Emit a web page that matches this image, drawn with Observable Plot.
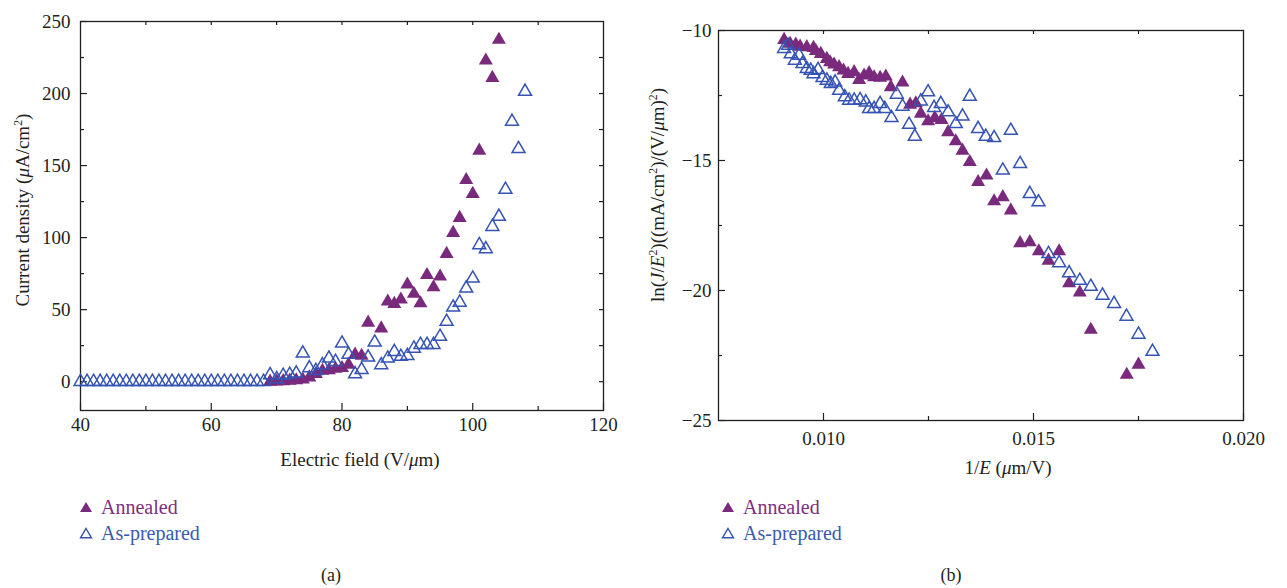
<!DOCTYPE html>
<html><head><meta charset="utf-8">
<script src="https://cdn.jsdelivr.net/npm/d3@7"></script>
<script src="https://cdn.jsdelivr.net/npm/@observablehq/plot@0.6"></script>
<style>
body{margin:0;background:#fff;}
#root{position:relative;width:1287px;height:588px;font-family:"Liberation Serif","Times New Roman",serif;color:#231f20;overflow:hidden;background:#fff}
.abs{position:absolute;white-space:nowrap;line-height:1}
.ctr{transform:translate(-50%,-50%)}
.ytitle{transform:translate(-50%,-50%) rotate(-90deg)}
.title{font-size:19px}
sup{font-size:0.62em;vertical-align:0.55em;line-height:0}
.leg{font-size:20px;display:flex;align-items:center;transform:translateY(-50%)}
.leg svg{margin-right:8px}
.cap{font-size:18px}
#pa,#pb{position:absolute;top:0}
#pa{left:0}#pb{left:640px}
</style></head>
<body><div id="root">
<div id="pa"></div><div id="pb"></div>
<div class="abs ytitle title" style="left:22px;top:210px">Current density (<i>μ</i>A/cm<sup>2</sup>)</div>
<div class="abs ctr title" style="left:360px;top:459px">Electric field (V/<i>μ</i>m)</div>
<div class="abs ytitle title" style="left:657px;top:195px">ln(<i>J</i>/<i>E</i><sup>2</sup>)((mA/cm<sup>2</sup>)/(V/<i>μ</i>m)<sup>2</sup>)</div>
<div class="abs ctr title" style="left:1008px;top:467px">1/<i>E</i> (<i>μ</i>m/V)</div>
<div class="abs leg" style="left:79px;top:507px;color:#7b2f80"><svg width="14" height="12"><path d="M7,1L13,11L1,11Z" fill="#7a2a7c"/></svg>Annealed</div>
<div class="abs leg" style="left:79px;top:533px;color:#3a5ab0"><svg width="14" height="12"><path d="M7,1.5L12.5,10.8L1.5,10.8Z" fill="none" stroke="#3553b3" stroke-width="1.4"/></svg>As-prepared</div>
<div class="abs leg" style="left:721px;top:507px;color:#7b2f80"><svg width="14" height="12"><path d="M7,1L13,11L1,11Z" fill="#7a2a7c"/></svg>Annealed</div>
<div class="abs leg" style="left:721px;top:533px;color:#3a5ab0"><svg width="14" height="12"><path d="M7,1.5L12.5,10.8L1.5,10.8Z" fill="none" stroke="#3553b3" stroke-width="1.4"/></svg>As-prepared</div>
<div class="abs ctr cap" style="left:331px;top:575px">(a)</div>
<div class="abs ctr cap" style="left:951px;top:575px">(b)</div>
</div>
<script>
// ---------- Panel (a): J vs E ----------
const annealedE = [69,70,71,72,73,74,75,76,77,78,79,80,81,82,83,84,86,87,88,89,90,91,92,93,94,95,96,97,98,99,100,101,102,103,104];
const annealedJ = [0,0.2,0.4,0.7,1.0,1.5,3,5.3,7.6,8,9,9.5,11.8,18.8,18,41,37,55.6,54,57,67.4,61,54.4,74,65.5,73,88.7,103.3,113.7,140,130.3,160.4,222.9,210.9,237.3];
const preparedE = [40,41,42,43,44,45,46,47,48,49,50,51,52,53,54,55,56,57,58,59,60,61,62,63,64,65,66,67,68,69,70,71,72,73,74,75,76,77,78,79,80,81,82,83,84,85,86,87,88,89,90,91,92,93,94,95,96,97,98,99,100,101,102,103,104,105,106,107,108];
const preparedJ = [0,0,0,0,0,0,0,0,0,0,0,0,0,0,0,0,0,0,0,0,0,0,0,0,0,0,0,0,0,4.7,1.9,4.2,4.9,5.8,19.7,9.5,7.6,11.6,16.2,13.9,26.6,18.8,5.3,8.3,16.9,27.3,11.6,16.2,20.8,17.4,18,23.1,25.7,25.7,25.7,31.3,41.7,51.6,55,64.8,71.7,94.9,92.1,107.6,114.6,133.3,180.6,161.6,201.4];
const xTicksA = [40,60,80,100,120];
const xMinorA = [50,70,90,110];
const yTicksA = [0,50,100,150,200,250];
const yMinorA = [25,75,125,175,225];

// ---------- Panel (b): ln(J/E^2) vs 1/E ----------
const annealedInvE = [0.009062,0.009205,0.00934,0.009443,0.009602,0.009762,0.009817,0.009936,0.010079,0.010157,0.010252,0.010371,0.010476,0.010586,0.010729,0.010848,0.010967,0.011086,0.011205,0.011348,0.011483,0.011602,0.011881,0.012062,0.012198,0.012317,0.01249,0.01265,0.01281,0.012967,0.01315,0.01331,0.013483,0.013681,0.013881,0.014062,0.014269,0.01446,0.014681,0.014912,0.015126,0.015357,0.01561,0.015848,0.016102,0.016364,0.017221,0.0175];
const annealedLn = [-10.36,-10.51,-10.54,-10.62,-10.64,-10.67,-10.79,-10.9,-11.09,-11.22,-11.31,-11.41,-11.54,-11.67,-11.6,-11.9,-11.73,-11.64,-11.8,-11.82,-11.77,-12.18,-12.0,-12.85,-12.8,-13.2,-13.49,-13.36,-13.44,-13.91,-14.26,-14.62,-15.06,-15.83,-15.58,-16.57,-16.41,-16.92,-18.18,-18.14,-18.49,-18.85,-18.49,-19.72,-20.08,-21.51,-23.24,-22.85];
const preparedInvE = [0.009062,0.009157,0.009221,0.009317,0.009419,0.0095,0.009602,0.009698,0.009762,0.009871,0.009976,0.010079,0.010174,0.010276,0.010371,0.010507,0.01061,0.010729,0.010871,0.011007,0.011086,0.011205,0.011348,0.01146,0.011619,0.011745,0.011881,0.012038,0.012174,0.012317,0.01249,0.012633,0.012793,0.012967,0.01315,0.01331,0.013483,0.013681,0.013864,0.014062,0.014269,0.01446,0.014681,0.014912,0.015119,0.015357,0.01561,0.015848,0.016102,0.016364,0.016643,0.016919,0.017214,0.0175,0.017833];
const preparedLn = [-10.7,-10.58,-10.9,-11.15,-10.96,-11.28,-11.47,-11.54,-11.67,-11.51,-11.82,-11.92,-12.05,-11.99,-12.31,-12.56,-12.69,-12.69,-12.67,-12.76,-13.01,-13.01,-12.82,-13.01,-13.36,-12.46,-12.92,-13.62,-14.08,-12.72,-12.37,-12.97,-12.82,-13.14,-13.59,-13.3,-12.54,-13.78,-14.08,-14.13,-15.38,-13.85,-15.13,-16.28,-16.6,-18.59,-18.94,-19.33,-19.62,-19.85,-20.19,-20.51,-21.0,-21.69,-22.35];
const xTicksB = [0.010,0.015,0.020];
const xMinorB = [0.0125,0.0175];
const xTopB = [0.010,0.0125,0.015,0.0175];
const yTicksB = [-10,-15,-20,-25];
const yMinorB = [-12.5,-17.5,-22.5];

const purple = "#7a2a7c", blue = "#3553b3", ink = "#231f20";
const rows = (xs, ys) => xs.map((x, i) => ({x, y: ys[i]}));

function panel({width, height, mL, mR, mT, mB, xDomain, yDomain, xTicks, xMinor, xTop, yTicks, yMinor, yRight, xFmt, xPad, yPad, filled, hollow}) {
  const fw = width - mL - mR, fh = height - mT - mB;
  const major = 7, minor = 4;
  return Plot.plot({
    width, height, marginLeft: mL, marginRight: mR, marginTop: mT, marginBottom: mB,
    style: {fontFamily: '"Liberation Serif","Times New Roman",serif', fontSize: "19px", color: ink, background: "transparent", overflow: "visible"},
    x: {domain: xDomain, label: null},
    y: {domain: yDomain, label: null},
    marks: [
      Plot.axisX(xTicks, {tickSize: 0, tickPadding: xPad, tickFormat: xFmt, label: null, fill: ink}),
      Plot.axisY(yTicks, {tickSize: 0, tickPadding: yPad, tickFormat: d3.format("d"), label: null, fill: ink}),
      Plot.tickX(xTicks, {x: d => d, insetTop: fh - major, stroke: ink, strokeWidth: 1.2}),
      Plot.tickX(xMinor, {x: d => d, insetTop: fh - minor, stroke: ink, strokeWidth: 1.2}),
      Plot.tickX(xTop, {x: d => d, insetBottom: fh - minor, stroke: ink, strokeWidth: 1.2}),
      Plot.tickY(yTicks, {y: d => d, insetRight: fw - major, stroke: ink, strokeWidth: 1.2}),
      Plot.tickY(yMinor, {y: d => d, insetRight: fw - minor, stroke: ink, strokeWidth: 1.2}),
      Plot.tickY(yRight, {y: d => d, insetLeft: fw - minor, stroke: ink, strokeWidth: 1.2}),
      Plot.frame({stroke: ink, strokeWidth: 1.3}),
      Plot.dot(filled, {x: "x", y: "y", symbol: "triangle", r: 5.2, fill: purple, stroke: "none"}),
      Plot.dot(hollow, {x: "x", y: "y", symbol: "triangle", r: 4.8, fill: "none", stroke: blue, strokeWidth: 1.5})
    ]
  });
}

document.getElementById("pa").append(panel({
  width: 620, height: 440, mL: 80, mR: 17, mT: 21, mB: 30,
  xDomain: [40, 120], yDomain: [-20, 250],
  xTicks: xTicksA, xMinor: xMinorA, xTop: [50,60,70,80,90,100,110],
  yTicks: yTicksA, yMinor: yMinorA, yRight: [0,25,50,75,100,125,150,175,200,225],
  xFmt: d3.format("d"), xPad: 7, yPad: 10,
  filled: rows(annealedE, annealedJ), hollow: rows(preparedE, preparedJ)
}));

document.getElementById("pb").append(panel({
  width: 620, height: 450, mL: 78, mR: 17, mT: 30, mB: 30,
  xDomain: [0.0075, 0.020], yDomain: [-25, -10],
  xTicks: xTicksB, xMinor: xMinorB, xTop: xTopB,
  yTicks: yTicksB, yMinor: yMinorB, yRight: [-12.5,-15,-17.5,-20,-22.5],
  xFmt: d3.format(".3f"), xPad: 11, yPad: 7,
  filled: rows(annealedInvE, annealedLn), hollow: rows(preparedInvE, preparedLn)
}));
</script>
</body></html>
